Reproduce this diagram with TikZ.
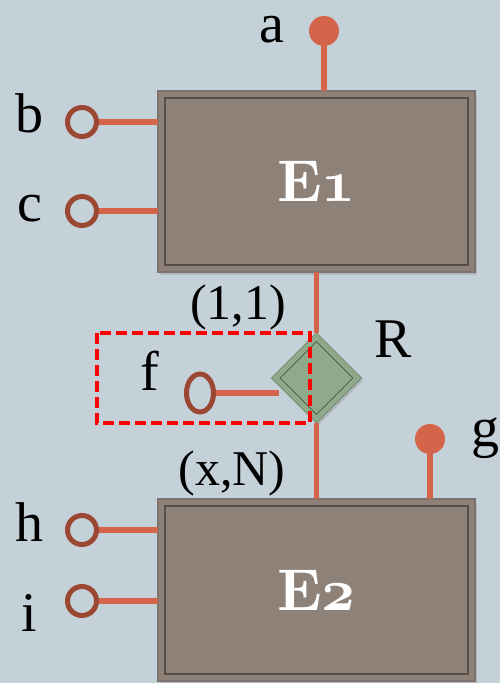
\documentclass[tikz,border=0pt]{standalone}
\usepackage{fontspec}
\setmainfont{Liberation Serif}
\usetikzlibrary{shapes.geometric,shadows}
\font\ebx=cmbx10 at 59pt
\font\osf=cmmib10 at 59pt
\definecolor{bg}{RGB}{197,209,216}
\definecolor{boxfill}{RGB}{142,129,120}
\definecolor{boxedge}{RGB}{125,114,108}
\definecolor{boxinner}{RGB}{88,78,72}
\definecolor{linec}{RGB}{212,101,74}
\definecolor{attrc}{RGB}{155,72,51}
\definecolor{diafill}{RGB}{143,170,138}
\definecolor{diaedge}{RGB}{118,142,114}
\definecolor{diainner}{RGB}{70,86,68}
\tikzset{
  entity/.style={rectangle, draw=boxedge, line width=2pt, fill=boxfill,
    minimum width=317pt, inner sep=0pt, outer sep=0pt, text=white,
    drop shadow={opacity=0.3, shadow xshift=2pt, shadow yshift=-3pt}},
  innerline/.style={draw=boxinner, line width=1.6pt},
  rel/.style={diamond, aspect=1, draw=diaedge, line width=1pt, fill=diafill,
    minimum size=90pt, inner sep=0pt, outer sep=0pt,
    drop shadow={opacity=0.3, shadow xshift=2pt, shadow yshift=-2pt}},
  relin/.style={diamond, aspect=1, draw=diainner, line width=0.8pt,
    minimum size=73pt, inner sep=0pt},
  keyattr/.style={circle, fill=linec, minimum size=30pt, inner sep=0pt},
  attr/.style={circle, draw=attrc, line width=5pt, minimum size=29pt, inner sep=0pt},
  attrell/.style={ellipse, draw=attrc, line width=5pt, minimum width=27pt,
    minimum height=38pt, inner sep=0pt},
  conn/.style={draw=linec, line width=5.5pt},
  lbl/.style={font=\fontsize{56}{60}\selectfont, inner sep=0pt, anchor=base},
  card/.style={font=\fontsize{50}{54}\selectfont, inner sep=0pt, anchor=base},
  sel/.style={draw=red, line width=4pt, dash pattern=on 11pt off 5pt}
}
\begin{document}
\begin{tikzpicture}[x=1pt,y=-1pt]
\useasboundingbox (0,0) rectangle (500,683);
\fill[bg] (0,0) rectangle (500,683);

% entities
\node[entity, minimum height=181pt] (E1) at (316.5,181.5) {{\ebx E}{\osf 1}};
\draw[innerline] ([shift={(7,7)}]E1.north west) rectangle ([shift={(-7,-7)}]E1.south east);
\node[entity, minimum height=182pt] (E2) at (316.5,590) {{\ebx E}{\osf 2}};
\draw[innerline] ([shift={(7,7)}]E2.north west) rectangle ([shift={(-7,-7)}]E2.south east);

% relationship
\node[rel] (R) at (316.5,378) {};
\node[relin] (Rin) at (R) {};

% attributes of E1
\node[keyattr] (ca) at (324,31) {};
\node[attr] (cb) at (82,122) {};
\node[attr] (cc) at (82,211) {};
% attribute of R
\node[attrell] (cf) at (200,393) {};
\coordinate (fend) at (279,393);
% attributes of E2
\node[keyattr] (cg) at (430,439) {};
\node[attr] (ch) at (82,530) {};
\node[attr] (ci) at (82,601) {};

% connectors
\draw[conn] (ca) -- (ca |- E1.north);
\draw[conn] (cb.east) -- (cb.east -| E1.west);
\draw[conn] (cc.east) -- (cc.east -| E1.west);
\draw[conn] (E1.south) -- (R.north);
\draw[conn] (R.south) -- (E2.north);
\draw[conn] (cf.east) -- (fend);
\draw[conn] (cg) -- (cg |- E2.north);
\draw[conn] (ch.east) -- (ch.east -| E2.west);
\draw[conn] (ci.east) -- (ci.east -| E2.west);

% selection box
\draw[sel] (97,333) rectangle (310,423);

% labels
\node[lbl] (la) at (272,42) {a};
\node[lbl] (lb) at (30,132) {b};
\node[lbl] (lc) at (30,221) {c};
\node[lbl] (lf) at (150,390) {f};
\node[lbl] (lR) at (393,357) {R};
\node[lbl] (lg) at (485,446) {g};
\node[lbl] (lh) at (29,541) {h};
\node[lbl] (li) at (29,631) {i};
\node[card] (c11) at (238,319) {(1,1)};
\node[card] (cxN) at (232,485) {(x,N)};
\end{tikzpicture}
\end{document}
